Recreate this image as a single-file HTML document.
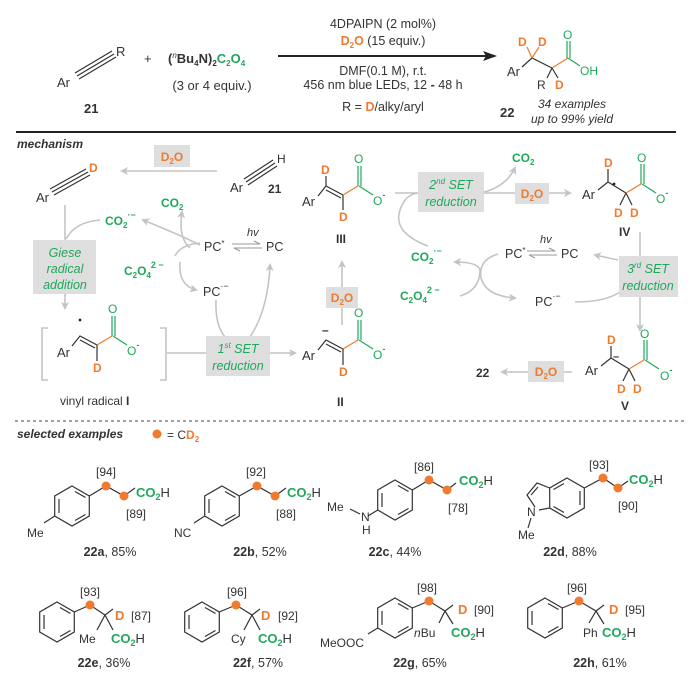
<!DOCTYPE html>
<html><head><meta charset="utf-8"><style>
html,body{margin:0;padding:0;background:#fff}
svg{display:block}
text{font-family:"Liberation Sans",Arial,sans-serif;fill:#333}
.g{fill:#1fa85a}.o{fill:#f07a2e}.b{font-weight:bold}.i{font-style:italic}
.ln{stroke:#333;stroke-width:1.2;fill:none}
.gl{stroke:#1fa85a;stroke-width:1.2;fill:none}
.ol{stroke:#f07a2e;stroke-width:1.2;fill:none}
.ar{stroke:#c4c4c4;stroke-width:1.6;fill:none}
.box{fill:#dedede}
</style></head><body>
<svg width="700" height="682" viewBox="0 0 700 682" xmlns="http://www.w3.org/2000/svg">
<defs>
<marker id="ga" markerWidth="8" markerHeight="8" refX="6" refY="4" orient="auto" markerUnits="userSpaceOnUse"><path d="M0,0 L8,4 L0,8 L2,4z" fill="#c4c4c4"/></marker>
<marker id="ka" markerWidth="14" markerHeight="10" refX="12" refY="5" orient="auto" markerUnits="userSpaceOnUse"><path d="M0,0 L14,5 L0,10 L3,5z" fill="#222"/></marker>
</defs>

<!-- TOP SCHEME -->
<text x="57" y="87" font-size="13">Ar</text>
<path class="ln" d="M77,76 L114,54 M75,73 L112,51 M79,79 L116,57"/>
<text x="116" y="56" font-size="13">R</text>
<text x="84" y="113" font-size="13" class="b">21</text>
<text x="144" y="63" font-size="13">+</text>
<text x="168" y="63" font-size="13" class="b">(<tspan font-size="8" dy="-5" class="i" font-weight="normal">n</tspan><tspan dy="5">Bu</tspan><tspan font-size="8" dy="3">4</tspan><tspan dy="-3">N)</tspan><tspan font-size="8" dy="3">2</tspan><tspan dy="-3" class="g">C</tspan><tspan font-size="8" dy="3" class="g">2</tspan><tspan dy="-3" class="g">O</tspan><tspan font-size="8" dy="3" class="g">4</tspan></text>
<text x="212" y="90" font-size="13" text-anchor="middle">(3 or 4 equiv.)</text>
<line x1="278" y1="56" x2="495" y2="56" stroke="#222" stroke-width="2" marker-end="url(#ka)"/>
<text x="383" y="28" font-size="12.5" text-anchor="middle">4DPAIPN (2 mol%)</text>
<text x="383" y="45" font-size="12.5" text-anchor="middle"><tspan class="o b">D</tspan><tspan class="o b" font-size="8" dy="3">2</tspan><tspan class="o b" dy="-3">O</tspan> (15 equiv.)</text>
<text x="383" y="75" font-size="12.5" text-anchor="middle">DMF(0.1 M), r.t.</text>
<text x="383" y="89" font-size="12.5" text-anchor="middle">456 nm blue LEDs, 12 <tspan class="b">-</tspan> 48 h</text>
<text x="383" y="111" font-size="12.5" text-anchor="middle">R = <tspan class="o b">D</tspan>/alky/aryl</text>
<!-- product 22 -->
<text x="507" y="76" font-size="13">Ar</text>
<path class="ln" d="M522,67 L532,58 L552,68"/>
<path class="ol" d="M532,58 L527,47 M532,58 L539,47 M552,68 L568,58"/>
<path class="ln" d="M552,68 L547,78 M552,68 L558,78"/>
<path class="gl" d="M567,58 L567,41 M570,58 L570,41 M568,58 L580,66"/>
<text x="518" y="46" font-size="12" class="o b">D</text>
<text x="538" y="46" font-size="12" class="o b">D</text>
<text x="563" y="39" font-size="12" class="g">O</text>
<text x="580" y="75" font-size="12" class="g">OH</text>
<text x="537" y="89" font-size="12">R</text>
<text x="555" y="89" font-size="12" class="o b">D</text>
<text x="500" y="117" font-size="13" class="b">22</text>
<text x="572" y="108" font-size="12" class="i" text-anchor="middle">34 examples</text>
<text x="572" y="123" font-size="12" class="i" text-anchor="middle">up to 99% yield</text>
<line x1="16" y1="132" x2="676" y2="132" stroke="#222" stroke-width="2"/>

<!-- MECHANISM -->
<text x="17" y="148" font-size="12" class="b i">mechanism</text>
<line x1="217" y1="171" x2="122" y2="171" class="ar" marker-end="url(#ga)"/>
<rect x="154" y="145" width="36" height="22" class="box"/>
<text x="172" y="161" font-size="12" class="o b" text-anchor="middle">D<tspan font-size="8" dy="3">2</tspan><tspan dy="-3">O</tspan></text>
<text x="230" y="192" font-size="13">Ar</text>
<path class="ln" d="M246,182 L275,163 M244,179 L273,160 M248,185 L277,166"/>
<text x="277" y="163" font-size="12">H</text>
<text x="268" y="193" font-size="12" class="b">21</text>
<text x="36" y="202" font-size="13">Ar</text>
<path class="ln" d="M52,192 L88,172 M50,189 L86,169 M54,195 L90,175"/>
<text x="89" y="172" font-size="12" class="o b">D</text>
<!-- Giese -->
<line x1="65" y1="205" x2="65" y2="308" class="ar" marker-end="url(#ga)"/>
<rect x="33" y="240" width="63" height="54" class="box"/>
<text x="65" y="257" font-size="12.5" class="g i" text-anchor="middle">Giese</text>
<text x="65" y="273" font-size="12.5" class="g i" text-anchor="middle">radical</text>
<text x="65" y="289" font-size="12.5" class="g i" text-anchor="middle">addition</text>
<path class="ar" d="M66,239 Q75,222 100,220"/>
<text x="105" y="225" font-size="12" class="g b">CO<tspan font-size="8" dy="3">2</tspan><tspan font-size="9" dy="-10">·−</tspan></text>
<text x="161" y="207" font-size="12" class="g b">CO<tspan font-size="8" dy="3">2</tspan></text>
<path class="ar" d="M200,245 Q180,235 143,220" marker-end="url(#ga)"/>
<path class="ar" d="M190,248 Q178,238 182,212" marker-end="url(#ga)"/>
<path class="ar" d="M175,256 Q180,245 200,243"/>
<path class="ar" d="M180,262 Q178,285 196,290" marker-end="url(#ga)"/>
<text x="124" y="275" font-size="12" class="g b">C<tspan font-size="8" dy="3">2</tspan><tspan dy="-3">O</tspan><tspan font-size="8" dy="3">4</tspan><tspan font-size="9" dy="-10">2 −</tspan></text>
<text x="204" y="251" font-size="12.5">PC<tspan font-size="8" dy="-5">*</tspan></text>
<text x="247" y="236" font-size="11" class="i">hv</text>
<path d="M232,244 L260,244 L254,241 M262,248 L234,248 L240,251" stroke="#999" stroke-width="1.1" fill="none"/>
<text x="266" y="251" font-size="12.5">PC</text>
<text x="203" y="296" font-size="12.5">PC<tspan font-size="9" dy="-7">·−</tspan></text>
<!-- I -->
<path class="ar" d="M48,328 L42,328 L42,380 L48,380 M160,328 L166,328 L166,380 L160,380"/>
<text x="57" y="357" font-size="13">Ar</text>
<circle cx="80" cy="320" r="1.4" fill="#222"/>
<path class="ln" d="M72,346 L80,336 L97,345 M80,340 L95,348"/>
<path class="ol" d="M97,345 L112,336"/>
<path class="ln" d="M97,345 L97,361"/>
<path class="gl" d="M112,336 L112,316 M115,336 L115,316 M113,336 L127,345"/>
<text x="108" y="313" font-size="12" class="g">O</text>
<text x="127" y="355" font-size="12" class="g">O<tspan font-size="9" dy="-7" class="b">-</tspan></text>
<text x="93" y="372" font-size="12" class="o b">D</text>
<text x="60" y="405" font-size="12">vinyl radical <tspan class="b">I</tspan></text>
<!-- 1st SET -->
<line x1="167" y1="353" x2="295" y2="353" class="ar" marker-end="url(#ga)"/>
<path class="ar" d="M216,300 Q215,325 225,337"/>
<path class="ar" d="M250,337 Q268,310 270,265" marker-end="url(#ga)"/>
<rect x="206" y="336" width="64" height="40" class="box"/>
<text x="238" y="353" font-size="12.5" class="g i" text-anchor="middle">1<tspan font-size="8" dy="-5">st</tspan><tspan dy="5"> SET</tspan></text>
<text x="238" y="370" font-size="12.5" class="g i" text-anchor="middle">reduction</text>
<!-- II -->
<text x="302" y="360" font-size="13">Ar</text>
<path class="ln" d="M318,350 L326,340 L343,349 M326,344 L341,352"/>
<text x="322" y="334" font-size="12" class="b">–</text>
<path class="ol" d="M343,349 L358,340"/>
<path class="ln" d="M343,349 L343,365"/>
<path class="gl" d="M358,340 L358,320 M361,340 L361,320 M359,340 L373,349"/>
<text x="354" y="317" font-size="12" class="g">O</text>
<text x="373" y="359" font-size="12" class="g">O<tspan font-size="9" dy="-7" class="b">-</tspan></text>
<text x="339" y="376" font-size="12" class="o b">D</text>
<text x="337" y="406" font-size="12" class="b">II</text>
<line x1="342" y1="325" x2="342" y2="262" class="ar" marker-end="url(#ga)"/>
<rect x="326" y="287" width="32" height="21" class="box"/>
<text x="342" y="302" font-size="12" class="o b" text-anchor="middle">D<tspan font-size="8" dy="3">2</tspan><tspan dy="-3">O</tspan></text>
<!-- III -->
<text x="302" y="206" font-size="13">Ar</text>
<path class="ln" d="M318,196 L326,186 L343,195 M326,190 L341,198"/>
<path class="ln" d="M326,186 L326,176 M343,195 L343,210"/>
<path class="ol" d="M343,195 L358,186"/>
<path class="gl" d="M358,186 L358,166 M361,186 L361,166 M359,186 L373,195"/>
<text x="321" y="174" font-size="12" class="o b">D</text>
<text x="354" y="163" font-size="12" class="g">O</text>
<text x="373" y="205" font-size="12" class="g">O<tspan font-size="9" dy="-7" class="b">-</tspan></text>
<text x="339" y="221" font-size="12" class="o b">D</text>
<text x="336" y="243" font-size="12" class="b">III</text>
<!-- 2nd SET -->
<line x1="395" y1="193" x2="570" y2="193" class="ar" marker-end="url(#ga)"/>
<path class="ar" d="M480,193 Q505,188 515,168" marker-end="url(#ga)"/>
<path class="ar" d="M428,246 Q385,230 405,200 Q410,194 418,193"/>
<rect x="418" y="172" width="66" height="40" class="box"/>
<text x="451" y="189" font-size="12.5" class="g i" text-anchor="middle">2<tspan font-size="8" dy="-5">nd</tspan><tspan dy="5"> SET</tspan></text>
<text x="451" y="206" font-size="12.5" class="g i" text-anchor="middle">reduction</text>
<text x="512" y="162" font-size="12" class="g b">CO<tspan font-size="8" dy="3">2</tspan></text>
<rect x="515" y="183" width="34" height="21" class="box"/>
<text x="532" y="198" font-size="12" class="o b" text-anchor="middle">D<tspan font-size="8" dy="3">2</tspan><tspan dy="-3">O</tspan></text>
<!-- IV -->
<text x="582" y="199" font-size="13">Ar</text>
<circle cx="614" cy="184" r="1.4" fill="#222"/>
<path class="ln" d="M598,190 L608,182 L626,193 M608,182 L608,169"/>
<path class="ln" d="M626,193 L620,205 M626,193 L632,205"/>
<path class="ol" d="M626,193 L641,184"/>
<path class="gl" d="M641,184 L641,164 M644,184 L644,164 M642,184 L656,193"/>
<text x="604" y="167" font-size="12" class="o b">D</text>
<text x="614" y="217" font-size="12" class="o b">D</text>
<text x="630" y="217" font-size="12" class="o b">D</text>
<text x="637" y="162" font-size="12" class="g">O</text>
<text x="656" y="203" font-size="12" class="g">O<tspan font-size="9" dy="-7" class="b">-</tspan></text>
<text x="619" y="236" font-size="12" class="b">IV</text>
<!-- right cycle -->
<text x="411" y="261" font-size="12" class="g b">CO<tspan font-size="8" dy="3">2</tspan><tspan font-size="9" dy="-10">·−</tspan></text>
<text x="400" y="300" font-size="12" class="g b">C<tspan font-size="8" dy="3">2</tspan><tspan dy="-3">O</tspan><tspan font-size="8" dy="3">4</tspan><tspan font-size="9" dy="-10">2 −</tspan></text>
<path class="ar" d="M460,296 Q480,290 480,270 Q478,262 455,262" marker-end="url(#ga)"/>
<path class="ar" d="M498,254 Q478,260 481,278 Q486,296 515,298" marker-end="url(#ga)"/>
<text x="505" y="258" font-size="12.5">PC<tspan font-size="8" dy="-5">*</tspan></text>
<text x="540" y="243" font-size="11" class="i">hv</text>
<path d="M527,251 L555,251 L549,248 M557,255 L529,255 L535,258" stroke="#999" stroke-width="1.1" fill="none"/>
<text x="561" y="258" font-size="12.5">PC</text>
<text x="535" y="306" font-size="12.5">PC<tspan font-size="9" dy="-7">·−</tspan></text>
<line x1="640" y1="232" x2="640" y2="330" class="ar" marker-end="url(#ga)"/>
<path class="ar" d="M618,260 L595,255" marker-end="url(#ga)"/>
<path class="ar" d="M575,302 Q605,302 620,292"/>
<rect x="619" y="256" width="59" height="41" class="box"/>
<text x="648" y="273" font-size="12.5" class="g i" text-anchor="middle">3<tspan font-size="8" dy="-5">rd</tspan><tspan dy="5"> SET</tspan></text>
<text x="648" y="290" font-size="12.5" class="g i" text-anchor="middle">reduction</text>
<!-- V -->
<text x="585" y="375" font-size="13">Ar</text>
<path class="ln" d="M601,366 L611,358 L629,369 M611,358 L611,346"/>
<text x="613" y="360" font-size="11" class="b">–</text>
<path class="ln" d="M629,369 L623,381 M629,369 L635,381"/>
<path class="ol" d="M629,369 L644,360"/>
<path class="gl" d="M644,360 L644,340 M647,360 L647,340 M645,360 L659,369"/>
<text x="607" y="344" font-size="12" class="o b">D</text>
<text x="617" y="393" font-size="12" class="o b">D</text>
<text x="633" y="393" font-size="12" class="o b">D</text>
<text x="640" y="338" font-size="12" class="g">O</text>
<text x="660" y="380" font-size="12" class="g">O<tspan font-size="9" dy="-7" class="b">-</tspan></text>
<text x="621" y="410" font-size="12" class="b">V</text>
<line x1="572" y1="372" x2="502" y2="372" class="ar" marker-end="url(#ga)"/>
<rect x="528" y="361" width="36" height="21" class="box"/>
<text x="546" y="376" font-size="12" class="o b" text-anchor="middle">D<tspan font-size="8" dy="3">2</tspan><tspan dy="-3">O</tspan></text>
<text x="476" y="377" font-size="12" class="b">22</text>

<line x1="15" y1="421" x2="685" y2="421" stroke="#444" stroke-width="1" stroke-dasharray="3,3"/>
<text x="17" y="438" font-size="12" class="b i">selected examples</text>
<circle cx="157" cy="434" r="4.5" fill="#f07a2e"/>
<text x="167" y="439" font-size="12">= C<tspan class="o b">D</tspan><tspan class="o b" font-size="8" dy="3">2</tspan></text>

<!-- 22a -->
<g transform="translate(72,506)">
<path class="ln" d="M0,-20 L17.3,-10 L17.3,10 L0,20 L-17.3,10 L-17.3,-10Z M-13,-7 L-13,7 M3,-14.5 L13.5,-8.5 M3,14.5 L13.5,8.5"/>
<path class="ln" d="M17.3,-10 L34,-20 L52,-10 L63,-18 M-17.3,10 L-28,17"/>
<circle cx="34" cy="-20" r="4.5" fill="#f07a2e"/><circle cx="52" cy="-10" r="4.5" fill="#f07a2e"/>
</g>
<text x="136" y="497" font-size="13"><tspan class="g b">CO</tspan><tspan class="g b" font-size="9" dy="3">2</tspan><tspan dy="-3">H</tspan></text>
<text x="96" y="476" font-size="12">[94]</text><text x="126" y="518" font-size="12">[89]</text>
<text x="27" y="537" font-size="12">Me</text>
<text x="110" y="556" font-size="12.5" text-anchor="middle"><tspan class="b">22a</tspan>, 85%</text>
<!-- 22b -->
<g transform="translate(222,506)">
<path class="ln" d="M0,-20 L17.3,-10 L17.3,10 L0,20 L-17.3,10 L-17.3,-10Z M-13,-7 L-13,7 M3,-14.5 L13.5,-8.5 M3,14.5 L13.5,8.5"/>
<path class="ln" d="M17.3,-10 L35,-20 L53,-10 L64,-18 M-17.3,10 L-28,17"/>
<circle cx="35" cy="-20" r="4.5" fill="#f07a2e"/><circle cx="53" cy="-10" r="4.5" fill="#f07a2e"/>
</g>
<text x="287" y="497" font-size="13"><tspan class="g b">CO</tspan><tspan class="g b" font-size="9" dy="3">2</tspan><tspan dy="-3">H</tspan></text>
<text x="246" y="476" font-size="12">[92]</text><text x="276" y="518" font-size="12">[88]</text>
<text x="174" y="537" font-size="12">NC</text>
<text x="260" y="556" font-size="12.5" text-anchor="middle"><tspan class="b">22b</tspan>, 52%</text>
<!-- 22c -->
<g transform="translate(395,500)">
<path class="ln" d="M0,-20 L17.3,-10 L17.3,10 L0,20 L-17.3,10 L-17.3,-10Z M-13,-7 L-13,7 M3,-14.5 L13.5,-8.5 M3,14.5 L13.5,8.5"/>
<path class="ln" d="M17.3,-10 L34,-20 L52,-10 L61,-17 M-17.3,10 L-27,16"/>
<circle cx="34" cy="-20" r="4.5" fill="#f07a2e"/><circle cx="52" cy="-10" r="4.5" fill="#f07a2e"/>
</g>
<text x="459" y="485" font-size="13"><tspan class="g b">CO</tspan><tspan class="g b" font-size="9" dy="3">2</tspan><tspan dy="-3">H</tspan></text>
<text x="414" y="471" font-size="12">[86]</text><text x="448" y="512" font-size="12">[78]</text>
<text x="361" y="521" font-size="12">N</text><text x="362" y="534" font-size="12">H</text>
<path class="ln" d="M360,514 L350,509"/><text x="327" y="511" font-size="12">Me</text>
<text x="395" y="556" font-size="12.5" text-anchor="middle"><tspan class="b">22c</tspan>, 44%</text>
<!-- 22d -->
<g transform="translate(567,498)">
<path class="ln" d="M0,-20 L17.3,-10 L17.3,10 L0,20 L-17.3,10 L-17.3,-10Z M13,-7 L13,7 M-3,-14.5 L-13.5,-8.5 M-3,14.5 L-13.5,8.5"/>
<path class="ln" d="M-17.3,-10 L-30,-15 L-40,-3 L-32,9 M-29,-11 L-36,-3 M-17.3,10 L-28,12"/>
<path class="ln" d="M17.3,-10 L36,-20 L51,-10 L61,-17"/>
<circle cx="36" cy="-20" r="4.5" fill="#f07a2e"/><circle cx="51" cy="-10" r="4.5" fill="#f07a2e"/>
</g>
<text x="629" y="484" font-size="13"><tspan class="g b">CO</tspan><tspan class="g b" font-size="9" dy="3">2</tspan><tspan dy="-3">H</tspan></text>
<text x="589" y="469" font-size="12">[93]</text><text x="618" y="510" font-size="12">[90]</text>
<text x="527" y="516" font-size="12">N</text>
<path class="ln" d="M531,518 L528,528"/><text x="518" y="539" font-size="12">Me</text>
<text x="570" y="556" font-size="12.5" text-anchor="middle"><tspan class="b">22d</tspan>, 88%</text>

<!-- 22e -->
<g transform="translate(57,622)">
<path class="ln" d="M0,-20 L17.3,-10 L17.3,10 L0,20 L-17.3,10 L-17.3,-10Z M-13,-7 L-13,7 M3,-14.5 L13.5,-8.5 M3,14.5 L13.5,8.5"/>
<path class="ln" d="M17.3,-10 L33,-17 L48,-7 L56,-13 M48,-7 L40,8 M48,-7 L56,8"/>
<circle cx="33" cy="-17" r="4.5" fill="#f07a2e"/>
</g>
<text x="115" y="620" font-size="13" class="o b">D</text><text x="131" y="620" font-size="12">[87]</text>
<text x="79" y="643" font-size="12">Me</text>
<text x="111" y="643" font-size="13"><tspan class="g b">CO</tspan><tspan class="g b" font-size="9" dy="3">2</tspan><tspan dy="-3">H</tspan></text>
<text x="80" y="596" font-size="12">[93]</text>
<text x="104" y="667" font-size="12.5" text-anchor="middle"><tspan class="b">22e</tspan>, 36%</text>
<!-- 22f -->
<g transform="translate(202,622)">
<path class="ln" d="M0,-20 L17.3,-10 L17.3,10 L0,20 L-17.3,10 L-17.3,-10Z M-13,-7 L-13,7 M3,-14.5 L13.5,-8.5 M3,14.5 L13.5,8.5"/>
<path class="ln" d="M17.3,-10 L34,-17 L50,-7 L58,-13 M50,-7 L42,8 M50,-7 L58,8"/>
<circle cx="34" cy="-17" r="4.5" fill="#f07a2e"/>
</g>
<text x="261" y="620" font-size="13" class="o b">D</text><text x="278" y="620" font-size="12">[92]</text>
<text x="231" y="643" font-size="12">Cy</text>
<text x="258" y="643" font-size="13"><tspan class="g b">CO</tspan><tspan class="g b" font-size="9" dy="3">2</tspan><tspan dy="-3">H</tspan></text>
<text x="227" y="596" font-size="12">[96]</text>
<text x="258" y="667" font-size="12.5" text-anchor="middle"><tspan class="b">22f</tspan>, 57%</text>
<!-- 22g -->
<g transform="translate(395,618)">
<path class="ln" d="M0,-20 L17.3,-10 L17.3,10 L0,20 L-17.3,10 L-17.3,-10Z M-13,-7 L-13,7 M3,-14.5 L13.5,-8.5 M3,14.5 L13.5,8.5"/>
<path class="ln" d="M17.3,-10 L34,-17 L50,-7 L58,-13 M50,-7 L44,5 M50,-7 L58,6 M-17.3,10 L-27,16"/>
<circle cx="34" cy="-17" r="4.5" fill="#f07a2e"/>
</g>
<text x="458" y="614" font-size="13" class="o b">D</text><text x="474" y="614" font-size="12">[90]</text>
<text x="414" y="637" font-size="12"><tspan class="i">n</tspan>Bu</text>
<text x="451" y="637" font-size="13"><tspan class="g b">CO</tspan><tspan class="g b" font-size="9" dy="3">2</tspan><tspan dy="-3">H</tspan></text>
<text x="417" y="592" font-size="12">[98]</text>
<text x="320" y="647" font-size="12">MeOOC</text>
<text x="420" y="667" font-size="12.5" text-anchor="middle"><tspan class="b">22g</tspan>, 65%</text>
<!-- 22h -->
<g transform="translate(545,618)">
<path class="ln" d="M0,-20 L17.3,-10 L17.3,10 L0,20 L-17.3,10 L-17.3,-10Z M-13,-7 L-13,7 M3,-14.5 L13.5,-8.5 M3,14.5 L13.5,8.5"/>
<path class="ln" d="M17.3,-10 L34,-17 L51,-7 L59,-13 M51,-7 L44,5 M51,-7 L59,6"/>
<circle cx="34" cy="-17" r="4.5" fill="#f07a2e"/>
</g>
<text x="609" y="614" font-size="13" class="o b">D</text><text x="625" y="614" font-size="12">[95]</text>
<text x="583" y="637" font-size="12">Ph</text>
<text x="602" y="637" font-size="13"><tspan class="g b">CO</tspan><tspan class="g b" font-size="9" dy="3">2</tspan><tspan dy="-3">H</tspan></text>
<text x="567" y="592" font-size="12">[96]</text>
<text x="600" y="667" font-size="12.5" text-anchor="middle"><tspan class="b">22h</tspan>, 61%</text>
</svg>
</body></html>
